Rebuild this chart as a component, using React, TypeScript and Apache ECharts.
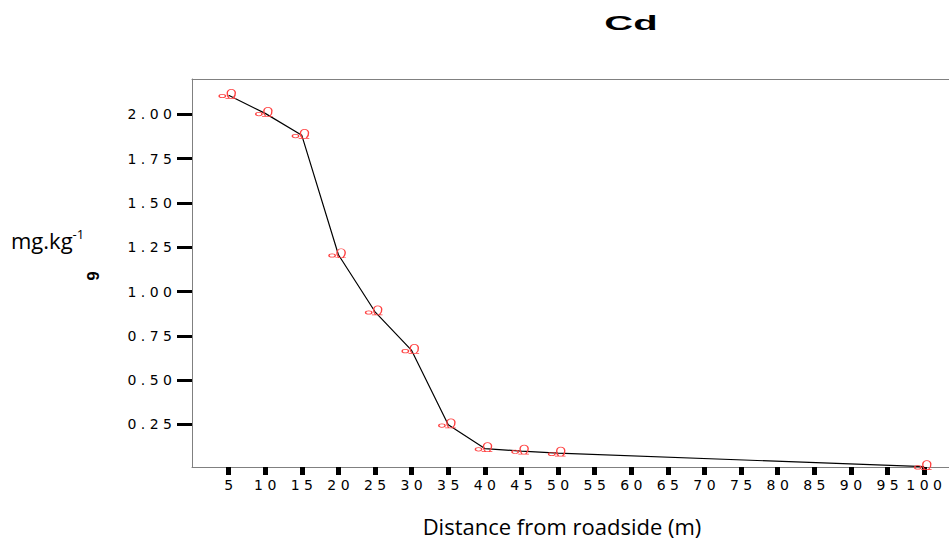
import React, { useEffect, useRef } from "react";
import * as echarts from "echarts";

const distances = [5, 10, 15, 20, 25, 30, 35, 40, 45, 50, 100];
const cdValues = [2.108, 2.006, 1.882, 1.208, 0.886, 0.668, 0.248, 0.114, 0.1, 0.088, 0.012];
const xTickValues = [5, 10, 15, 20, 25, 30, 35, 40, 45, 50, 55, 60, 65, 70, 75, 80, 85, 90, 95, 100];
const yTickValues = [0.25, 0.5, 0.75, 1.0, 1.25, 1.5, 1.75, 2.0];
const titleText = "Cd";
const yTitle = "mg.kg";
const yTitleSup = "-1";
const xTitle = "Distance from roadside (m)";

const MARKER =
  "path://M0 6 C0 4 6 4 6 6 C6 8 0 8 0 6 Z M6 8 L16 8 M9.5 8 C6.5 5 7 0 11.5 0 C16 0 16.5 5 13 8";

const spaced = (s: string) => s.split("").join(" ");

export default function App() {
  const ref = useRef<HTMLDivElement>(null);
  useEffect(() => {
    if (!ref.current) return;
    const chart = echarts.init(ref.current, null, { renderer: "svg" });
    const labelStyle = {
      fontFamily: "DejaVu Sans",
      fontSize: 14,
      color: "#000",
    };
    chart.setOption({
      animation: false,
      backgroundColor: "#fff",
      grid: { left: 192, right: 0, top: 79, bottom: 74 },
      xAxis: [
        {
          type: "value",
          min: 0,
          max: 103.4,
          splitLine: { show: false },
          axisLine: { show: true, onZero: false, lineStyle: { color: "#808080", width: 1 } },
          axisTick: {
            show: true,
            customValues: xTickValues,
            length: 8,
            lineStyle: { color: "#000", width: 5 },
          },
          axisLabel: {
            customValues: xTickValues,
            margin: 11,
            formatter: (v: number) => spaced(String(v)),
            ...labelStyle,
          },
        },
        {
          type: "value",
          position: "top",
          min: 0,
          max: 103.4,
          splitLine: { show: false },
          axisLine: { show: true, onZero: false, lineStyle: { color: "#808080", width: 1 } },
          axisTick: { show: false },
          axisLabel: { show: false },
        },
      ],
      yAxis: {
        type: "value",
        min: 0.01,
        max: 2.2,
        splitLine: { show: false },
        axisLine: { show: true, onZero: false, lineStyle: { color: "#808080", width: 1 } },
        axisTick: {
          show: true,
          customValues: yTickValues,
          length: 15,
          lineStyle: { color: "#000", width: 3 },
        },
        axisLabel: {
          customValues: yTickValues,
          margin: 20,
          formatter: (v: number) => spaced(v.toFixed(2)),
          ...labelStyle,
        },
      },
      series: [
        {
          type: "line",
          xAxisIndex: 0,
          data: distances.map((d, i) => [d, cdValues[i]]),
          lineStyle: { color: "#000", width: 1.2 },
          symbol: MARKER,
          symbolSize: [17, 9],
          symbolOffset: [-1, -1.5],
          symbolKeepAspect: false,
          showSymbol: true,
          itemStyle: {
            color: "rgba(0,0,0,0)",
            borderColor: "#ff4040",
            borderWidth: 1,
          },
          z: 3,
        },
      ],
      graphic: [
        {
          type: "text",
          x: 631,
          y: 23.5,
          scaleX: 2.0,
          style: {
            text: titleText,
            font: "bold 20px 'Liberation Sans'",
            fill: "#000",
            textAlign: "center",
            textVerticalAlign: "middle",
          },
        },
        {
          type: "text",
          x: 11,
          y: 240,
          style: {
            text: "{a|" + yTitle + "}{b|" + yTitleSup + "}",
            textVerticalAlign: "middle",
            rich: {
              a: { fontFamily: "Open Sans", fontSize: 22, fill: "#000", color: "#000" },
              b: {
                fontFamily: "Open Sans",
                fontSize: 13,
                fill: "#000",
                color: "#000",
                verticalAlign: "top",
                padding: [0, 0, 12, 0],
              },
            },
          },
        },
        {
          type: "text",
          x: 92,
          y: 276,
          rotation: -Math.PI / 2,
          style: {
            text: "6",
            font: "bold 17px 'Liberation Sans'",
            fill: "#000",
            textAlign: "center",
            textVerticalAlign: "middle",
          },
        },
        {
          type: "text",
          x: 562,
          y: 526,
          style: {
            text: xTitle,
            font: "22px 'Open Sans'",
            fill: "#000",
            textAlign: "center",
            textVerticalAlign: "middle",
          },
        },
      ],
    });
    return () => chart.dispose();
  }, []);
  return (
    <div
      ref={ref}
      style={{ position: "fixed", left: 0, top: 0, width: 949, height: 541, background: "#fff" }}
    />
  );
}
